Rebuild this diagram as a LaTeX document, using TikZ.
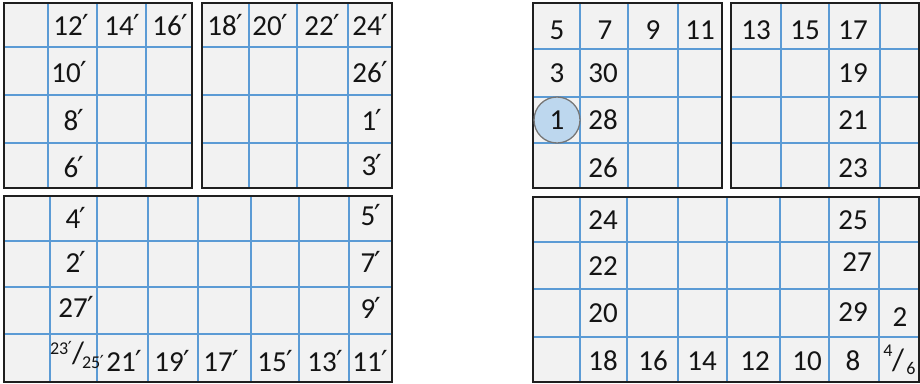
\documentclass[tikz,border=0pt]{standalone}
\usepackage{fontspec}
\setmainfont{Carlito}
\newfontfamily\primefont{DejaVu Sans}
\newcommand\pr{\kern-0.02em{\primefont ′}}
\definecolor{cellgray}{HTML}{F2F2F2}
\definecolor{gridblue}{HTML}{5B9BD5}
\definecolor{circblue}{HTML}{BDD7EE}
\definecolor{circline}{HTML}{767676}
\definecolor{txt}{HTML}{141414}
\tikzset{
  blockfill/.style={fill=cellgray, draw=none},
  blueline/.style={draw=gridblue, line width=1.4pt},
  frame/.style={draw=black!88, line width=1.8pt},
  lab/.style={font=\fontsize{29}{29}\selectfont, inner sep=0pt, text=txt},
  fraclab/.style={font=\fontsize{18}{18}\selectfont, inner sep=0pt, text=txt},
  slashlab/.style={font=\fontsize{31}{31}\selectfont, inner sep=0pt, text=txt},
}
\begin{document}
\begin{tikzpicture}[x=1pt,y=-1pt]
\useasboundingbox (0,0) rectangle (920,383);
% ---------- block A ----------
\fill[blockfill] (4,3) rectangle (192,188);
\foreach \x in {48,97,146} \draw[blueline] (\x,3) -- (\x,188);
\foreach \y in {47,95,143} \draw[blueline] (4,\y) -- (192,\y);
\draw[frame] (4,3) rectangle (192,188);
% ---------- block B ----------
\fill[blockfill] (202,3) rectangle (392,188);
\foreach \x in {249,297,348} \draw[blueline] (\x,3) -- (\x,188);
\foreach \y in {47,95,143} \draw[blueline] (202,\y) -- (392,\y);
\draw[frame] (202,3) rectangle (392,188);
% ---------- block C ----------
\fill[blockfill] (4,196) rectangle (392,382);
\foreach \x in {50,97,148,198,251,299,349} \draw[blueline] (\x,196) -- (\x,382);
\foreach \y in {241,287,334} \draw[blueline] (4,\y) -- (392,\y);
\draw[frame] (4,196) rectangle (392,382);
% ---------- block D ----------
\fill[blockfill] (533,3) rectangle (722,188);
\foreach \x in {580,628,678} \draw[blueline] (\x,3) -- (\x,188);
\foreach \y in {49,97,143} \draw[blueline] (533,\y) -- (722,\y);
\draw[frame] (533,3) rectangle (722,188);
% ---------- block E ----------
\fill[blockfill] (731,3) rectangle (919,188);
\foreach \x in {781,829,880} \draw[blueline] (\x,3) -- (\x,188);
\foreach \y in {49,97,143} \draw[blueline] (731,\y) -- (919,\y);
\draw[frame] (731,3) rectangle (919,188);
% ---------- block F ----------
\fill[blockfill] (533,197) rectangle (919,382);
\foreach \x in {580,627,678,727,780,829,879} \draw[blueline] (\x,197) -- (\x,382);
\foreach \y in {242,289,337} \draw[blueline] (533,\y) -- (919,\y);
\draw[frame] (533,197) rectangle (919,382);

% ---------- labels block A ----------
\node[lab] (a12) at (71,25) {12\pr};
\node[lab] (a14) at (122,25) {14\pr};
\node[lab] (a16) at (170,25) {16\pr};
\node[lab] (a10) at (69,72) {10\pr};
\node[lab] (a8) at (74,120) {8\pr};
\node[lab] (a6) at (74,167) {6\pr};
% ---------- labels block B ----------
\node[lab] (b18) at (225,25) {18\pr};
\node[lab] (b20) at (270,25) {20\pr};
\node[lab] (b22) at (322,25) {22\pr};
\node[lab] (b24) at (370,25) {24\pr};
\node[lab] (b26) at (370,72) {26\pr};
\node[lab] (b1) at (372,120) {1\pr};
\node[lab] (b3) at (372,165) {3\pr};
% ---------- labels block C ----------
\node[lab] (c4) at (76,218) {4\pr};
\node[lab] (c2) at (76,262) {2\pr};
\node[lab] (c27) at (76,307) {27\pr};
\node[fraclab] (c23) at (61,348) {23\pr};
\node[slashlab] (cslash) at (78,353) {/};
\node[fraclab] (c25) at (93,362) {25\pr};
\node[lab] (c21) at (124,361) {21\pr};
\node[lab] (c19) at (172,361) {19\pr};
\node[lab] (c17) at (221,361) {17\pr};
\node[lab] (c15) at (275,361) {15\pr};
\node[lab] (c13) at (325,361) {13\pr};
\node[lab] (c11) at (370,361) {11\pr};
\node[lab] (c5) at (371,215) {5\pr};
\node[lab] (c7) at (371,262) {7\pr};
\node[lab] (c9) at (371,308) {9\pr};
% ---------- block D ----------
\node[circle, draw=circline, fill=circblue, line width=1.3pt, minimum size=46pt, inner sep=0pt] (circ) at (557,120) {};
\node[lab] (d1) at (557,120) {1};
\node[lab] (d5) at (557,30) {5};
\node[lab] (d7) at (605,30) {7};
\node[lab] (d9) at (653,30) {9};
\node[lab] (d11) at (700,30) {11};
\node[lab] (d3) at (557,73) {3};
\node[lab] (d30) at (603,73) {30};
\node[lab] (d28) at (603,120) {28};
\node[lab] (d26) at (603,168) {26};
% ---------- block E ----------
\node[lab] (e13) at (756,30) {13};
\node[lab] (e15) at (805,30) {15};
\node[lab] (e17) at (853,30) {17};
\node[lab] (e19) at (853,73) {19};
\node[lab] (e21) at (853,120) {21};
\node[lab] (e23) at (853,168) {23};
% ---------- block F ----------
\node[lab] (f24) at (603,220) {24};
\node[lab] (f22) at (603,266) {22};
\node[lab] (f20) at (603,313) {20};
\node[lab] (f18) at (603,361) {18};
\node[lab] (f16) at (653,361) {16};
\node[lab] (f14) at (702,361) {14};
\node[lab] (f12) at (755,361) {12};
\node[lab] (f10) at (807,361) {10};
\node[lab] (f8) at (853,361) {8};
\node[lab] (f25) at (853,220) {25};
\node[lab] (f27) at (857,262) {27};
\node[lab] (f29) at (853,312) {29};
\node[lab] (f2) at (900,317) {2};
\node[fraclab] (f4) at (888,351) {4};
\node[slashlab] (fslash) at (898,360) {/};
\node[fraclab] (f6) at (911,368) {6};
\end{tikzpicture}
\end{document}
